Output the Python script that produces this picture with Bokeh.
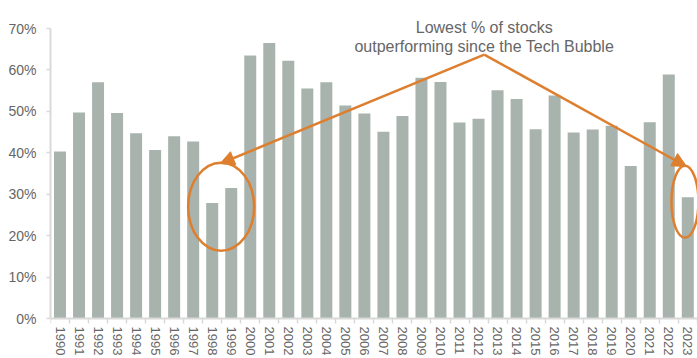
from bokeh.plotting import figure
from bokeh.models import (ColumnDataSource, FixedTicker, PrintfTickFormatter, Range1d,
                          Arrow, NormalHead, Label)
from bokeh.embed import file_html
from bokeh.resources import INLINE

years = list(range(1990, 2024))
pct_outperforming = [40.3, 49.7, 57.0, 49.6, 44.7, 40.7, 44.0, 42.7, 27.9, 31.5,
                     63.5, 66.5, 62.2, 55.5, 57.0, 51.4, 49.5, 45.1, 48.9, 58.1,
                     57.1, 47.3, 48.2, 55.1, 53.0, 45.7, 53.8, 44.9, 45.6, 46.5,
                     36.8, 47.4, 58.9, 29.3]
y_ticks = [0, 10, 20, 30, 40, 50, 60, 70]
annotation_lines = ["Lowest % of stocks", "outperforming since the Tech Bubble"]

BAR = "#a7b3ac"
ORANGE = "#dd7f2e"
AXIS = "#d9d9d9"
TEXT = "#666666"
FONT = "Liberation Sans"

src = ColumnDataSource(dict(year=years, pct=pct_outperforming))

p = figure(width=697, height=358, output_backend="svg", toolbar_location=None,
           x_range=Range1d(1989.5, 2023.51), y_range=Range1d(-9.65, 76.76),
           min_border_left=50, min_border_right=0, min_border_top=0,
           min_border_bottom=0)
p.outline_line_color = None
p.xgrid.grid_line_color = None
p.ygrid.grid_line_color = None
p.background_fill_color = "white"
p.border_fill_color = "white"

p.vbar(x="year", top="pct", width=0.63, bottom=0, source=src,
       fill_color=BAR, line_color=None)

# x axis (drawn at the 0% line)
xa = p.xaxis[0]
xa.fixed_location = 0
xa.ticker = FixedTicker(ticks=years, minor_ticks=[y - 0.5 for y in years] + [years[-1] + 0.5])
xa.major_label_orientation = "vertical"
xa.major_tick_out = 0
xa.major_tick_in = 0
xa.minor_tick_out = 5
xa.minor_tick_in = 0
xa.minor_tick_line_color = AXIS
xa.minor_tick_line_width = 1.5
xa.axis_line_color = AXIS
xa.axis_line_width = 2
xa.major_label_standoff = 3
xa.major_label_text_font = FONT
xa.major_label_text_font_size = "13px"
xa.major_label_text_color = TEXT

# y axis
ya = p.yaxis[0]
ya.bounds = (0, 70)
ya.ticker = FixedTicker(ticks=y_ticks)
ya.formatter = PrintfTickFormatter(format="%d%%")
ya.major_tick_out = 4
ya.major_tick_in = 0
ya.minor_tick_out = 0
ya.minor_tick_in = 0
ya.major_tick_line_color = AXIS
ya.major_tick_line_width = 1.5
ya.axis_line_color = AXIS
ya.axis_line_width = 2
ya.major_label_standoff = 10
ya.major_label_text_font = FONT
ya.major_label_text_font_size = "14px"
ya.major_label_text_color = TEXT

# annotations
apex = (2012.3, 63.7)
left_tip = (1998.42, 37.4)
right_tip = (2022.93, 36.7)
for tip in (left_tip, right_tip):
    p.add_layout(Arrow(end=NormalHead(size=14, fill_color=ORANGE, line_color=ORANGE),
                       x_start=apex[0], y_start=apex[1], x_end=tip[0], y_end=tip[1],
                       line_color=ORANGE, line_width=2.5))

p.ellipse(x=[1998.47, 2022.85], y=[27.0, 28.2], width=[66, 27], height=[88, 72],
          width_units="screen", height_units="screen",
          fill_color=None, line_color=ORANGE, line_width=2.5)

for txt, yy in zip(annotation_lines, [70.2, 65.6]):
    p.add_layout(Label(x=2012.3, y=yy, text=txt, text_align="center",
                       text_baseline="alphabetic", text_font=FONT,
                       text_font_size="16px", text_color=TEXT))

open("out.html", "w").write(file_html(p, INLINE))
